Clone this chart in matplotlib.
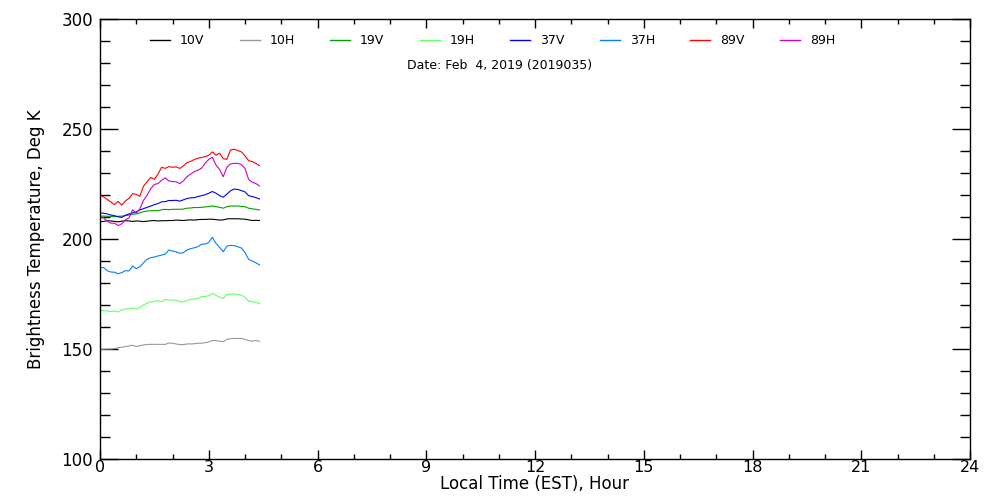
import numpy as np
import matplotlib
matplotlib.use("Agg")
import matplotlib.pyplot as plt
from matplotlib.lines import Line2D
from matplotlib.ticker import MultipleLocator

# local time, hours
hours = [round(0.1 * i, 1) for i in range(45)]

tb_10v = [207.8, 208.0, 208.3, 208.2, 208.0, 207.8, 208.1, 208.3, 208.2, 208.0,
          208.2, 208.1, 207.9, 208.1, 208.3, 208.4, 208.2, 208.3, 208.3, 208.4,
          208.4, 208.6, 208.5, 208.4, 208.6, 208.7, 208.6, 208.8, 208.9, 208.9,
          209.0, 209.0, 208.8, 208.6, 208.7, 209.1, 209.2, 209.2, 209.2, 209.1,
          209.0, 208.7, 208.4, 208.5, 208.4]
tb_10h = [149.9, 149.9, 150.0, 150.0, 150.2, 150.6, 150.8, 151.1, 151.4, 151.7,
          151.1, 151.5, 151.8, 152.1, 152.1, 152.1, 152.1, 152.1, 152.1, 152.7,
          152.6, 152.3, 152.0, 152.0, 152.3, 152.3, 152.4, 152.6, 152.6, 152.9,
          153.2, 153.9, 153.8, 153.5, 153.3, 154.4, 154.7, 154.8, 154.8, 154.8,
          154.4, 153.8, 153.6, 153.9, 153.5]
tb_19v = [210.4, 210.4, 210.3, 210.3, 210.1, 210.3, 210.4, 210.6, 210.9, 211.2,
          211.4, 211.9, 212.4, 212.7, 212.9, 212.9, 212.9, 213.3, 213.5, 213.3,
          213.5, 213.5, 213.5, 213.6, 214.0, 214.1, 214.3, 214.3, 214.4, 214.6,
          214.7, 215.0, 214.7, 214.4, 214.0, 214.7, 215.0, 215.0, 215.0, 214.8,
          214.7, 214.0, 213.7, 213.5, 213.2]
tb_19h = [167.7, 167.4, 167.3, 167.0, 167.3, 166.8, 167.7, 168.2, 168.2, 168.6,
          168.2, 168.9, 170.0, 170.9, 171.4, 171.7, 172.0, 171.5, 172.6, 172.3,
          172.2, 172.2, 171.5, 171.4, 172.0, 172.6, 172.7, 173.0, 173.8, 173.9,
          174.2, 175.3, 174.4, 173.5, 173.0, 174.7, 175.0, 175.0, 174.8, 174.5,
          173.5, 171.8, 171.5, 171.2, 170.7]
tb_37v = [211.9, 211.7, 211.4, 210.9, 210.6, 210.1, 209.8, 210.8, 211.4, 211.9,
          212.3, 213.2, 213.8, 214.4, 215.0, 215.6, 216.1, 216.9, 217.0, 217.5,
          217.5, 217.6, 217.2, 217.8, 218.4, 218.7, 218.8, 219.3, 219.7, 220.1,
          220.8, 221.6, 220.8, 219.7, 219.0, 220.4, 221.9, 222.7, 222.5, 222.0,
          221.4, 219.7, 219.3, 218.8, 218.2]
tb_37h = [187.1, 187.0, 185.6, 185.0, 184.9, 184.2, 184.7, 185.6, 185.5, 187.7,
          186.5, 187.4, 189.2, 190.8, 191.5, 191.8, 192.3, 192.7, 193.1, 195.0,
          194.5, 194.2, 193.5, 193.8, 195.0, 195.6, 196.0, 196.5, 197.6, 197.7,
          198.4, 200.8, 198.0, 196.2, 194.2, 196.8, 197.1, 197.0, 196.5, 195.9,
          193.8, 190.8, 190.0, 189.2, 188.2]
tb_89v = [219.9, 219.1, 218.0, 216.8, 215.6, 217.1, 215.4, 217.3, 218.5, 220.6,
          220.3, 219.4, 224.0, 226.0, 228.0, 227.1, 229.5, 232.6, 232.1, 232.9,
          232.6, 232.8, 232.1, 233.2, 234.7, 235.3, 236.1, 236.7, 237.1, 237.4,
          238.1, 239.6, 238.1, 239.0, 236.5, 236.2, 240.5, 240.8, 240.2, 239.6,
          237.8, 235.6, 235.2, 234.4, 233.3]
tb_89h = [210.2, 209.6, 208.1, 207.2, 207.2, 206.1, 206.9, 208.7, 209.6, 213.3,
          211.7, 213.8, 217.6, 219.9, 222.9, 224.8, 225.2, 226.7, 227.8, 226.4,
          226.1, 226.0, 225.2, 226.4, 228.3, 229.5, 230.6, 231.3, 232.1, 234.4,
          236.2, 237.1, 233.6, 231.6, 228.3, 232.6, 234.1, 234.4, 234.4, 233.8,
          232.1, 227.1, 225.8, 225.2, 224.1]

channels = ["10V", "10H", "19V", "19H", "37V", "37H", "89V", "89H"]
series = [tb_10v, tb_10h, tb_19v, tb_19h, tb_37v, tb_37h, tb_89v, tb_89h]
colors = ["#000000", "#999999", "#00a000", "#66ff66",
          "#0000ff", "#0080ff", "#ff0000", "#cc00cc"]

fig = plt.figure(figsize=(10, 5), dpi=100)
ax = fig.add_axes([0.1, 0.082, 0.87, 0.88])

for vals, c in zip(series, colors):
    ax.plot(hours, vals, color=c, lw=0.8)

ax.set_xlim(0, 24)
ax.set_ylim(100, 300)
ax.xaxis.set_major_locator(MultipleLocator(3))
ax.xaxis.set_minor_locator(MultipleLocator(1))
ax.yaxis.set_major_locator(MultipleLocator(50))
ax.yaxis.set_minor_locator(MultipleLocator(10))
ax.tick_params(which="both", direction="in", top=True, right=True,
               labelsize=12, width=1)
ax.tick_params(axis="x", which="major", length=6.7, pad=1, labelsize=11.5)
ax.tick_params(axis="x", which="minor", length=3.3)
ax.tick_params(axis="y", which="major", length=13, pad=5)
ax.tick_params(axis="y", which="minor", length=7)
for sp in ax.spines.values():
    sp.set_linewidth(1)

ax.set_ylabel("Brightness Temperature, Deg K", fontsize=12, labelpad=12)
fig.text(0.535, 1 - 484 / 500, "Local Time (EST), Hour", fontsize=12,
         ha="center", va="center")

# legend row along the top
W, H = 1000.0, 500.0
for i, (name, c) in enumerate(zip(channels, colors)):
    x0 = 150 + 90 * i
    fig.add_artist(Line2D([x0 / W, (x0 + 20) / W], [1 - 40 / H, 1 - 40 / H],
                          color=c, lw=1))
    fig.text((x0 + 30) / W, 1 - 40 / H, name, fontsize=9, va="center", ha="left")

fig.text(0.5, 1 - 65 / H, "Date: Feb  4, 2019 (2019035)", fontsize=9,
         ha="center", va="center")

fig.savefig("out.png")
